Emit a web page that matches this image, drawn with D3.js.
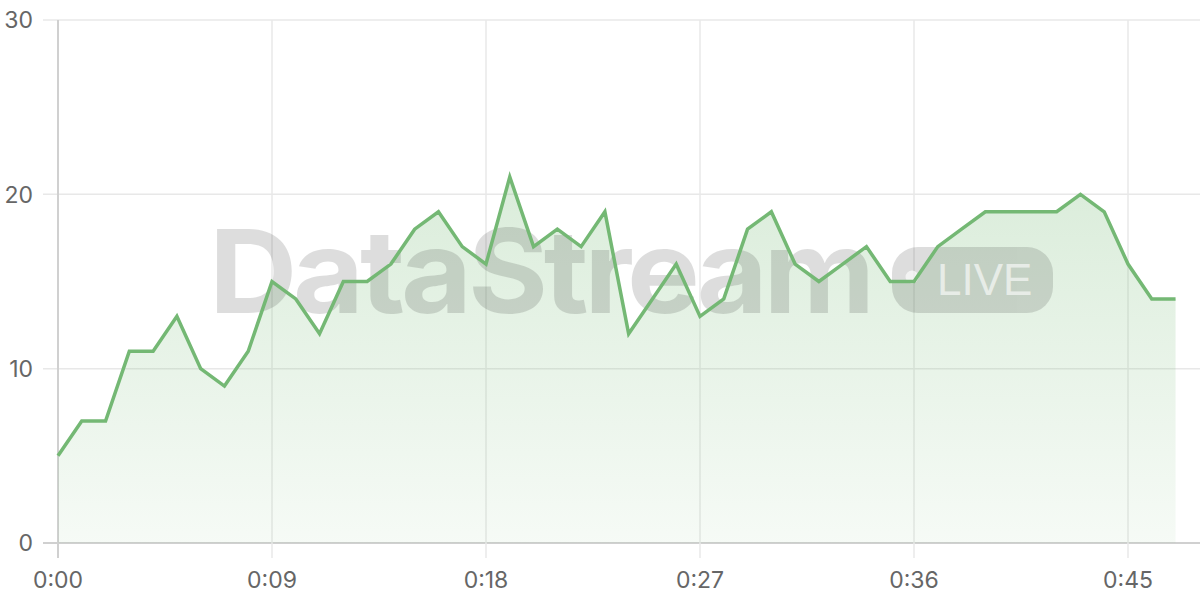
<!DOCTYPE html>
<html>
<head>
<meta charset="utf-8">
<script src="https://cdn.jsdelivr.net/npm/d3@7"></script>
<style>
  html, body { margin: 0; padding: 0; background: #fff; }
  #chart { width: 1200px; height: 600px; }
</style>
</head>
<body>
<div id="chart"></div>
<script>
// minutes since start
var minutes = [0,1,2,3,4,5,6,7,8,9,10,11,12,13,14,15,16,17,18,19,20,21,22,23,
               24,25,26,27,28,29,30,31,32,33,34,35,36,37,38,39,40,41,42,43,44,45,46,47];
var counts = [5,7,7,11,11,13,10,9,11,15,14,12,15,15,16,18,19,17,16,21,17,18,17,19,
              12,14,16,13,14,18,19,16,15,16,17,15,15,17,18,19,19,19,19,20,19,16,14,14];
var xTicks = [0,9,18,27,36,45];
var xTickLabels = ["0:00","0:09","0:18","0:27","0:36","0:45"];
var yTicks = [0,10,20,30];

var width = 1200;
var height = 600;
var margin = {top: 20, right: 0, bottom: 57, left: 58};

var svg = d3.select("#chart").append("svg")
    .attr("width", width)
    .attr("height", height);

var x = d3.scaleLinear()
    .domain([0, 48])
    .range([margin.left, margin.left + 48 * (214 / 9)]);

var y = d3.scaleLinear()
    .domain([0, 30])
    .range([height - margin.bottom, margin.top]);

var defs = svg.append("defs");
var grad = defs.append("linearGradient")
    .attr("id", "areaGrad")
    .attr("x1", 0).attr("y1", 0).attr("x2", 0).attr("y2", 1);
grad.append("stop").attr("offset", "0%").attr("stop-color", "#7cbd7c").attr("stop-opacity", 0.28);
grad.append("stop").attr("offset", "100%").attr("stop-color", "#7cbd7c").attr("stop-opacity", 0.07);

// grid lines (they poke out past the axes like ticks)
svg.append("g")
    .selectAll("line")
    .data(yTicks)
    .enter().append("line")
    .attr("x1", margin.left - 15)
    .attr("x2", width)
    .attr("y1", function(d){ return y(d);})
    .attr("y2", function(d){ return y(d);})
    .attr("stroke", function(d){ return d === 0 ? "#d0d0d0" : "#e8e8e8";})
    .attr("stroke-width", function(d){ return d === 0 ? 2 : 1.5;});

svg.append("g")
    .selectAll("line")
    .data(xTicks)
    .enter().append("line")
    .attr("x1", function(d){ return x(d);})
    .attr("x2", function(d){ return x(d);})
    .attr("y1", y(30))
    .attr("y2", y(0) + 15)
    .attr("stroke", function(d){ return d === 0 ? "#d0d0d0" : "#e8e8e8";})
    .attr("stroke-width", function(d){ return d === 0 ? 2 : 1.5;});

var data = minutes.map(function(m, i){ return {m: m, v: counts[i]}; });

var area = d3.area()
    .x(function(d){ return x(d.m);})
    .y0(y(0))
    .y1(function(d){ return y(d.v);});

var line = d3.line()
    .x(function(d){ return x(d.m);})
    .y(function(d){ return y(d.v);});

svg.append("path")
    .datum(data)
    .attr("d", area)
    .attr("fill", "url(#areaGrad)");

// watermark
var wm = svg.append("g").attr("opacity", 0.13);
wm.append("text")
    .attr("x", 209)
    .attr("y", 313)
    .attr("font-family", "Inter, 'Liberation Sans', sans-serif")
    .attr("font-weight", "bold")
    .attr("font-size", "116px")
    .attr("letter-spacing", "-4px")
    .attr("textLength", 662)
    .attr("lengthAdjust", "spacingAndGlyphs")
    .attr("fill", "#000")
    .text("DataStream");
wm.append("rect")
    .attr("x", 892)
    .attr("y", 247)
    .attr("width", 161)
    .attr("height", 66)
    .attr("rx", 26)
    .attr("fill", "#000");

svg.append("text")
    .attr("x", 937)
    .attr("y", 295)
    .attr("font-family", "'Liberation Sans', sans-serif")
    .attr("font-size", "44px")
    .attr("fill", "#fff")
    .attr("opacity", 0.6)
    .text("LIVE");
svg.append("circle")
    .attr("cx", 912)
    .attr("cy", 277)
    .attr("r", 6.5)
    .attr("fill", "#fff")
    .attr("opacity", 0.65);

svg.append("path")
    .datum(data)
    .attr("d", line)
    .attr("fill", "none")
    .attr("stroke", "#74b874")
    .attr("stroke-width", 3.5)
    .attr("stroke-linejoin", "miter");

// tick labels
svg.append("g")
    .selectAll("text")
    .data(yTicks)
    .enter().append("text")
    .attr("x", 33)
    .attr("y", function(d){ return y(d);})
    .attr("dy", "0.36em")
    .attr("text-anchor", "end")
    .attr("font-family", "Inter, 'Noto Sans', sans-serif")
    .attr("font-size", "23px")
    .attr("fill", "#666")
    .text(function(d){ return d;});

svg.append("g")
    .selectAll("text")
    .data(xTicks)
    .enter().append("text")
    .attr("x", function(d){ return x(d);})
    .attr("y", 588)
    .attr("text-anchor", "middle")
    .attr("font-family", "Inter, 'Noto Sans', sans-serif")
    .attr("font-size", "23px")
    .attr("fill", "#666")
    .text(function(d, i){ return xTickLabels[i];});
</script>
</body>
</html>
